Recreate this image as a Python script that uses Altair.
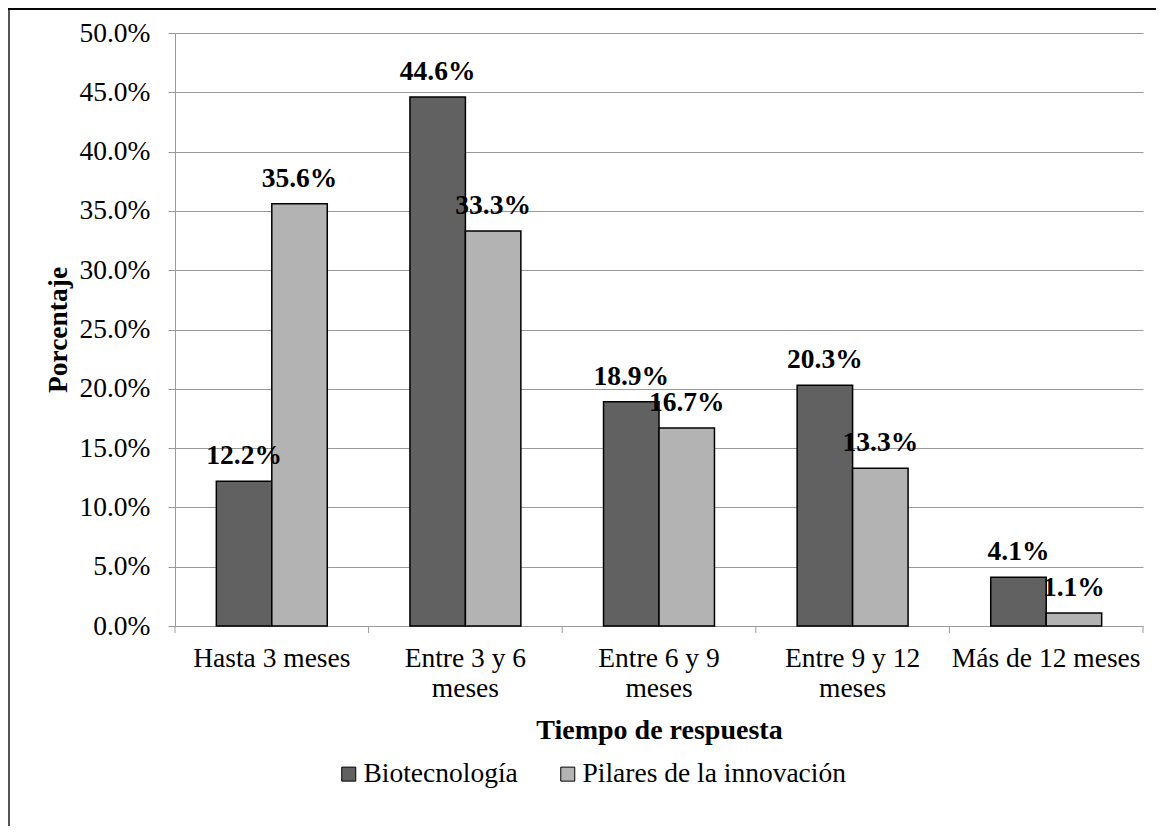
import altair as alt
import pandas as pd

categories = ["Hasta 3 meses", "Entre 3 y 6 meses", "Entre 6 y 9 meses",
              "Entre 9 y 12 meses", "Más de 12 meses"]
series = ["Biotecnología", "Pilares de la innovación"]
biotecnologia = [12.2, 44.6, 18.9, 20.3, 4.1]
pilares = [35.6, 33.3, 16.7, 13.3, 1.1]
colors = ["#616161", "#b3b3b3"]

rows = []
for c, b, p in zip(categories, biotecnologia, pilares):
    rows.append({"cat": c, "serie": series[0], "val": b / 100})
    rows.append({"cat": c, "serie": series[1], "val": p / 100})
df = pd.DataFrame(rows)

FONT = "Liberation Serif"
FS = 27.5
PI = 0.427
W = 968
H = 593
STEP = W / len(categories)
GAP = STEP * PI / 2

xenc = alt.X("cat:N", sort=categories,
             scale=alt.Scale(paddingInner=PI, paddingOuter=PI / 2),
             axis=alt.Axis(title="Tiempo de respuesta", ticks=False, tickSize=0,
                           labelAngle=0, labelPadding=18, labelFontSize=FS,
                           labelFont=FONT, titleFont=FONT, labelLimit=400,
                           labelLineHeight=30, labelBaseline="top",
                           labelExpr="indexof(datum.label,'Entre')==0 ? [replace(datum.label,' meses',''), 'meses'] : datum.label",
                           titleFontSize=28, titleFontWeight="bold",
                           titleBaseline="alphabetic", titleY=112,
                           domainColor="#999999", grid=False))
yenc = alt.Y("val:Q", scale=alt.Scale(domain=[0, 0.5], nice=False),
             axis=alt.Axis(title="Porcentaje", format=".1%",
                           values=[i * 0.05 for i in range(11)],
                           labelFont=FONT, titleFont=FONT,
                           tickSize=7, tickColor="#999999", labelPadding=18,
                           labelFontSize=FS, gridColor="#999999", gridWidth=1,
                           domainColor="#999999",
                           titleFontSize=27.5, titleFontWeight="bold",
                           titleX=-117, titleBaseline="middle", titleAngle=270))

base = alt.Chart(df)

bars = base.mark_bar(stroke="black", strokeWidth=1.5).encode(
    x=xenc,
    xOffset=alt.XOffset("serie:N", sort=series),
    y=yenc,
    color=alt.Color("serie:N", sort=series,
                    scale=alt.Scale(domain=series, range=colors),
                    legend=alt.Legend(title=None, orient="none", direction="horizontal",
                                      legendX=160, legendY=727, symbolType="square",
                                      symbolSize=196, symbolStrokeColor="black",
                                      symbolStrokeWidth=1, labelFontSize=FS,
                                      labelFont=FONT, labelLimit=500,
                                      labelOffset=1, columnPadding=36, padding=0,
                                      symbolOpacity=1)),
)

labels = base.mark_text(font=FONT, fontSize=FS, fontWeight="bold",
                        baseline="alphabetic", dy=-17, color="black").encode(
    x=alt.X("cat:N", sort=categories),
    xOffset=alt.XOffset("serie:N", sort=series),
    y=alt.Y("val:Q"),
    text=alt.Text("val:Q", format=".1%"),
)

tick_df = pd.DataFrame({"cat": categories})
ticks_a = alt.Chart(tick_df).mark_rule(color="#999999", strokeWidth=1, xOffset=-GAP).encode(
    x=alt.X("cat:N", sort=categories, bandPosition=0),
    y=alt.value(H), y2=alt.value(H + 7))
ticks_b = alt.Chart(pd.DataFrame({"cat": [categories[-1]]})).mark_rule(
    color="#999999", strokeWidth=1, xOffset=GAP).encode(
    x=alt.X("cat:N", sort=categories, bandPosition=1),
    y=alt.value(H), y2=alt.value(H + 7))

frame_left = alt.Chart(tick_df).mark_rule(color="#555555", strokeWidth=2).encode(
    x=alt.value(-166), y=alt.value(-25), y2=alt.value(900))
frame_top = alt.Chart(tick_df).mark_rule(color="black", strokeWidth=1).encode(
    x=alt.value(-167), x2=alt.value(1000), y=alt.value(-24))

chart = alt.layer(frame_left, frame_top, bars, labels, ticks_a, ticks_b).properties(
    width=W, height=H,
    autosize=alt.AutoSizeParams(type="none"),
    padding={"left": 167, "top": 25, "right": 13, "bottom": 200},
).configure(font=FONT).configure_view(stroke=None).configure_axis(
    labelFont=FONT, titleFont=FONT, labelColor="black", titleColor="black"
).configure_legend(labelFont=FONT, labelColor="black")

chart.save("out.html", embed_options={"renderer": "svg", "actions": False})
